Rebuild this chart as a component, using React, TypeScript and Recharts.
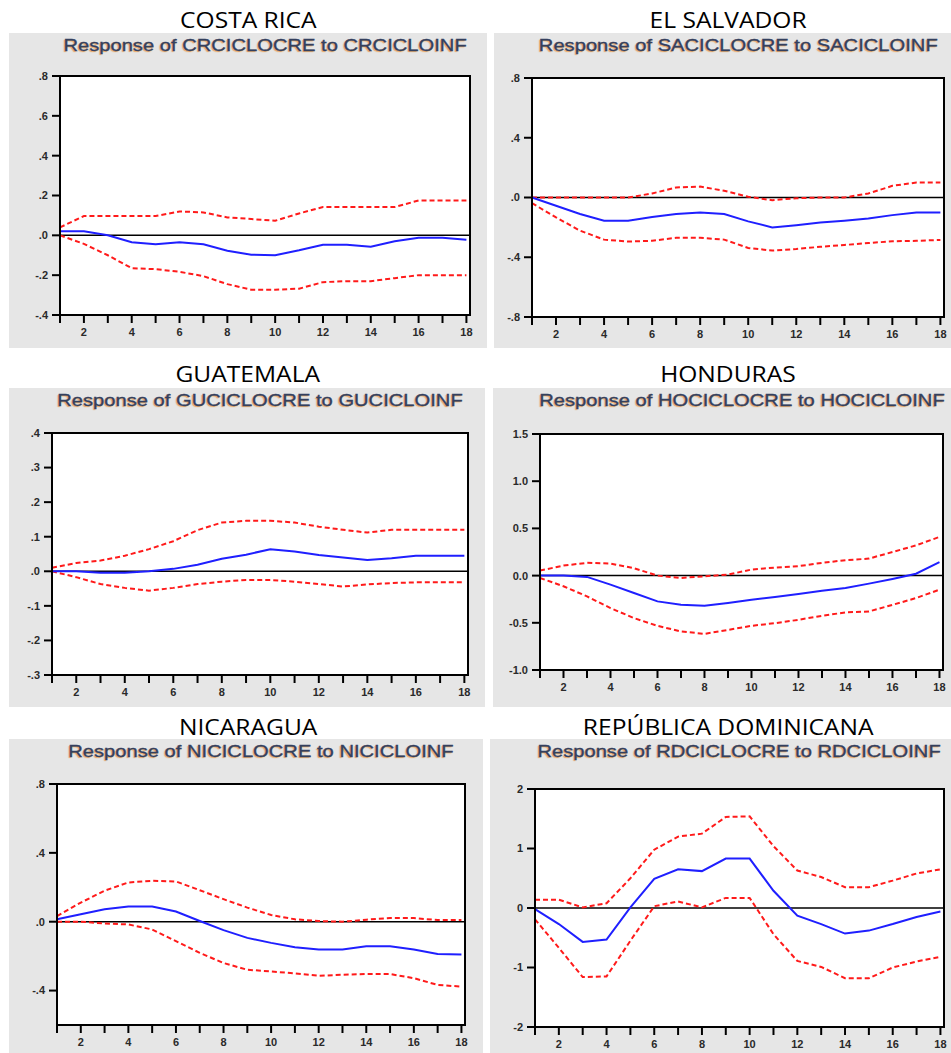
import { Line, LineChart, ReferenceArea, ReferenceLine, XAxis, YAxis } from "recharts";

const periods = [1, 2, 3, 4, 5, 6, 7, 8, 9, 10, 11, 12, 13, 14, 15, 16, 17, 18];

// Costa Rica
const crResponse = [0.02, 0.02, 0.0, -0.035, -0.045, -0.035, -0.045, -0.077, -0.097, -0.1, -0.075, -0.047, -0.047, -0.057, -0.03, -0.012, -0.012, -0.022];
const crUpper = [0.04, 0.097, 0.097, 0.097, 0.097, 0.12, 0.115, 0.09, 0.082, 0.073, 0.11, 0.142, 0.142, 0.142, 0.142, 0.175, 0.175, 0.175];
const crLower = [0.0, -0.043, -0.1, -0.165, -0.17, -0.183, -0.205, -0.245, -0.273, -0.273, -0.268, -0.235, -0.23, -0.23, -0.215, -0.2, -0.2, -0.2];
const crTicks = [-0.4, -0.2, 0, 0.2, 0.4, 0.6, 0.8];
const crLabels = ["-.4", "-.2", ".0", ".2", ".4", ".6", ".8"];

// El Salvador
const saResponse = [0, -0.055, -0.11, -0.155, -0.155, -0.13, -0.11, -0.1, -0.11, -0.16, -0.2, -0.185, -0.167, -0.155, -0.14, -0.118, -0.1, -0.1];
const saUpper = [0, 0, 0, 0, 0, 0.027, 0.067, 0.073, 0.045, 0.005, -0.018, -0.005, 0, 0, 0.027, 0.078, 0.1, 0.1];
const saLower = [-0.038, -0.133, -0.222, -0.282, -0.295, -0.29, -0.27, -0.27, -0.282, -0.338, -0.355, -0.345, -0.33, -0.318, -0.305, -0.293, -0.29, -0.284];
const saTicks = [-0.8, -0.4, 0, 0.4, 0.8];
const saLabels = ["-.8", "-.4", ".0", ".4", ".8"];

// Guatemala
const guResponse = [0, 0, -0.004, -0.004, 0, 0.007, 0.019, 0.036, 0.048, 0.064, 0.057, 0.047, 0.04, 0.033, 0.038, 0.045, 0.045, 0.045];
const guUpper = [0.01, 0.024, 0.031, 0.045, 0.064, 0.087, 0.119, 0.141, 0.146, 0.146, 0.141, 0.129, 0.12, 0.112, 0.12, 0.12, 0.12, 0.12];
const guLower = [0, -0.017, -0.037, -0.048, -0.056, -0.048, -0.037, -0.03, -0.025, -0.025, -0.03, -0.037, -0.044, -0.038, -0.034, -0.032, -0.032, -0.032];
const guTicks = [-0.3, -0.2, -0.1, 0, 0.1, 0.2, 0.3, 0.4];
const guLabels = ["-.3", "-.2", "-.1", ".0", ".1", ".2", ".3", ".4"];

// Honduras
const hoResponse = [0, 0, -0.014, -0.096, -0.184, -0.273, -0.309, -0.32, -0.29, -0.255, -0.227, -0.195, -0.16, -0.131, -0.085, -0.035, 0.02, 0.142];
const hoUpper = [0.053, 0.106, 0.135, 0.128, 0.078, 0, -0.025, -0.007, 0.01, 0.064, 0.085, 0.1, 0.135, 0.163, 0.18, 0.25, 0.32, 0.41];
const hoLower = [-0.025, -0.113, -0.22, -0.344, -0.45, -0.532, -0.592, -0.617, -0.575, -0.532, -0.504, -0.468, -0.426, -0.39, -0.38, -0.31, -0.238, -0.149];
const hoTicks = [-1.0, -0.5, 0, 0.5, 1.0, 1.5];
const hoLabels = ["-1.0", "-0.5", "0.0", "0.5", "1.0", "1.5"];

// Nicaragua
const niResponse = [0.014, 0.043, 0.072, 0.088, 0.088, 0.059, 0.004, -0.049, -0.094, -0.123, -0.148, -0.162, -0.162, -0.142, -0.142, -0.162, -0.187, -0.191];
const niUpper = [0.033, 0.111, 0.18, 0.228, 0.238, 0.234, 0.183, 0.131, 0.082, 0.039, 0.014, 0.004, 0, 0.012, 0.021, 0.021, 0.01, 0.01];
const niLower = [0, 0, -0.01, -0.016, -0.045, -0.113, -0.181, -0.24, -0.279, -0.289, -0.3, -0.314, -0.308, -0.304, -0.304, -0.328, -0.367, -0.377];
const niTicks = [-0.4, 0, 0.4, 0.8];
const niLabels = ["-.4", ".0", ".4", ".8"];

// República Dominicana
const rdResponse = [-0.02, -0.27, -0.57, -0.53, 0.01, 0.49, 0.65, 0.62, 0.83, 0.83, 0.29, -0.13, -0.27, -0.43, -0.38, -0.27, -0.15, -0.06];
const rdUpper = [0.14, 0.14, 0.01, 0.08, 0.5, 0.98, 1.2, 1.25, 1.53, 1.54, 1.04, 0.63, 0.52, 0.35, 0.35, 0.46, 0.58, 0.65];
const rdLower = [-0.19, -0.67, -1.16, -1.15, -0.55, 0.03, 0.11, 0.01, 0.17, 0.17, -0.44, -0.89, -0.99, -1.18, -1.18, -1.0, -0.9, -0.82];
const rdTicks = [-2, -1, 0, 1, 2];
const rdLabels = ["-2", "-1", "0", "1", "2"];

const X_MAX = 18.15;

type Box = { x: number; y: number; w: number; h: number };

const panels = [
  {
    country: "COSTA RICA",
    title: "Response of CRCICLOCRE to CRCICLOINF",
    response: crResponse, upper: crUpper, lower: crLower,
    domain: [-0.4, 0.8], ticks: crTicks, labels: crLabels,
    box: { x: 9, y: 33, w: 478, h: 315 },
    plot: { x: 60, y: 76, w: 410, h: 239 },
    nameY: 8,
  },
  {
    country: "EL SALVADOR",
    title: "Response of SACICLOCRE to SACICLOINF",
    response: saResponse, upper: saUpper, lower: saLower,
    domain: [-0.8, 0.8], ticks: saTicks, labels: saLabels,
    box: { x: 494, y: 33, w: 457, h: 315 },
    plot: { x: 532, y: 78, w: 412, h: 239 },
    nameY: 8,
  },
  {
    country: "GUATEMALA",
    title: "Response of GUCICLOCRE to GUCICLOINF",
    response: guResponse, upper: guUpper, lower: guLower,
    domain: [-0.3, 0.4], ticks: guTicks, labels: guLabels,
    box: { x: 9, y: 388, w: 476, h: 319 },
    plot: { x: 52, y: 433, w: 416, h: 242 },
    nameY: 362,
  },
  {
    country: "HONDURAS",
    title: "Response of HOCICLOCRE to HOCICLOINF",
    response: hoResponse, upper: hoUpper, lower: hoLower,
    domain: [-1.0, 1.5], ticks: hoTicks, labels: hoLabels,
    box: { x: 493, y: 388, w: 458, h: 319 },
    plot: { x: 540, y: 434, w: 403, h: 236 },
    nameY: 362,
  },
  {
    country: "NICARAGUA",
    title: "Response of NICICLOCRE to NICICLOINF",
    response: niResponse, upper: niUpper, lower: niLower,
    domain: [-0.6, 0.8], ticks: niTicks, labels: niLabels,
    box: { x: 9, y: 739, w: 474, h: 314 },
    plot: { x: 57, y: 784, w: 408, h: 241 },
    nameY: 715,
  },
  {
    country: "REPÚBLICA DOMINICANA",
    title: "Response of RDCICLOCRE to RDCICLOINF",
    response: rdResponse, upper: rdUpper, lower: rdLower,
    domain: [-2, 2], ticks: rdTicks, labels: rdLabels,
    box: { x: 490, y: 739, w: 461, h: 314 },
    plot: { x: 535, y: 789, w: 409, h: 238 },
    nameY: 715,
  },
];

const tickStyle = {
  fontSize: 11,
  fontFamily: "Arial, 'Liberation Sans', sans-serif",
  fontWeight: "bold" as const,
  fill: "#2a2a2a",
};

function Panel({ p }: { p: (typeof panels)[number] }) {
  const box: Box = p.box;
  const plot: Box = p.plot;
  const data = periods.map((period, i) => ({
    period,
    response: p.response[i],
    upper: p.upper[i],
    lower: p.lower[i],
  }));
  const leftCol = box.x < 400;
  return (
    <>
      <div
        style={{
          position: "absolute",
          left: leftCol ? 9 : 505,
          width: leftCol ? 478 : 446,
          top: p.nameY,
          textAlign: "center",
          fontFamily: "'Open Sans', sans-serif",
          fontSize: 21,
          lineHeight: "24px",
          color: "#000",
        }}
      >
        <span style={{ display: "inline-block", transform: "scaleX(1.17)" }}>{p.country}</span>
      </div>
      <div
        style={{
          position: "absolute",
          left: box.x,
          top: box.y,
          width: box.w,
          height: box.h,
          background: "#e6e6e6",
        }}
      >
        <div
          style={{
            position: "absolute",
            left: plot.x - box.x,
            width: plot.w,
            top: 3,
            textAlign: "center",
            fontFamily: "Arial, 'Liberation Sans', sans-serif",
            fontSize: 16,
            lineHeight: "20px",
            color: "#34405e",
            WebkitTextStroke: "0.35px #34405e",
            textShadow: "-1px 1px 1px rgba(235,150,60,0.85)",
            whiteSpace: "nowrap",
          }}
        >
          <span style={{ display: "inline-block", transform: "scaleX(1.26)" }}>{p.title}</span>
        </div>
        <LineChart
          width={box.w}
          height={box.h}
          data={data}
          margin={{
            top: plot.y - box.y,
            right: box.x + box.w - (plot.x + plot.w),
            left: 0,
            bottom: 0,
          }}
        >
          <ReferenceArea
            x1={1}
            x2={X_MAX}
            y1={p.domain[0]}
            y2={p.domain[1]}
            fill="#ffffff"
            fillOpacity={1}
            stroke="none"
          />
          <XAxis
            dataKey="period"
            type="number"
            domain={[1, X_MAX]}
            ticks={periods}
            interval={0}
            tickFormatter={(v: number) => (v % 2 === 0 ? String(v) : "")}
            height={box.y + box.h - (plot.y + plot.h)}
            axisLine={{ stroke: "#000", strokeWidth: 2 }}
            tickLine={{ stroke: "#000", strokeWidth: 2 }}
            tickSize={8}
            tickMargin={5}
            tick={tickStyle}
          />
          <YAxis
            type="number"
            domain={p.domain}
            ticks={p.ticks}
            interval={0}
            allowDataOverflow
            tickFormatter={(v: number) => p.labels[p.ticks.indexOf(v)] ?? String(v)}
            width={plot.x - box.x}
            axisLine={{ stroke: "#000", strokeWidth: 2 }}
            tickLine={{ stroke: "#000", strokeWidth: 2 }}
            tickSize={8}
            tickMargin={4}
            tick={tickStyle}
          />
          <ReferenceLine y={0} stroke="#000" strokeWidth={1.5} />
          <Line
            type="linear"
            dataKey="upper"
            stroke="#ff1a1a"
            strokeWidth={2}
            strokeDasharray="5 3"
            dot={false}
            isAnimationActive={false}
          />
          <Line
            type="linear"
            dataKey="lower"
            stroke="#ff1a1a"
            strokeWidth={2}
            strokeDasharray="5 3"
            dot={false}
            isAnimationActive={false}
          />
          <Line
            type="linear"
            dataKey="response"
            stroke="#1f1fff"
            strokeWidth={2}
            dot={false}
            isAnimationActive={false}
          />
          <ReferenceArea
            x1={1}
            x2={X_MAX}
            y1={p.domain[0]}
            y2={p.domain[1]}
            fill="none"
            stroke="#000"
            strokeWidth={2}
          />
        </LineChart>
      </div>
    </>
  );
}

export default function App() {
  return (
    <div
      style={{
        position: "absolute",
        left: 0,
        top: 0,
        width: 951,
        height: 1053,
        background: "#ffffff",
        overflow: "hidden",
      }}
    >
      {panels.map((p) => (
        <Panel key={p.country} p={p} />
      ))}
    </div>
  );
}
